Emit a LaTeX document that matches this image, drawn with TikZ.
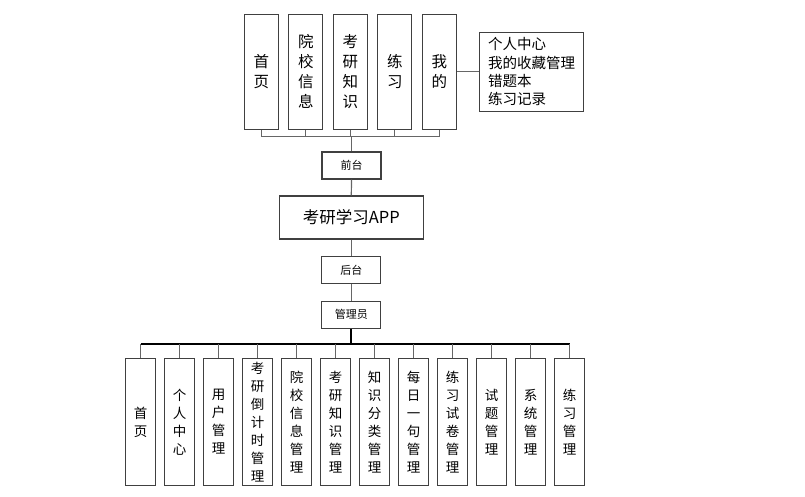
\documentclass[tikz,border=0pt]{standalone}
\usepackage{fontspec}
\setmainfont{Noto Sans CJK SC}
\usetikzlibrary{positioning}

\tikzset{
    box/.style={draw=black!75, line width=1.2pt, fill=white, inner sep=0pt, align=center},
    topbox/.style={box, minimum width=34pt, minimum height=115pt, font=\fontsize{15.5}{20}\selectfont},
    botbox/.style={box, minimum width=30pt, minimum height=127pt, font=\fontsize{13.5}{18}\selectfont},
    smallbox/.style={box, minimum width=59pt, minimum height=27pt, font=\fontsize{11}{13}\selectfont},
    link/.style={draw=black!60, line width=1.2pt},
    bus/.style={draw=black, line width=1.8pt},
}

\begin{document}
\begin{tikzpicture}[x=1pt, y=-1pt]
    \useasboundingbox (0,0) rectangle (805,497);

    \pgfmathsetmacro{\tx}{261.3}  % first top box
    \pgfmathsetmacro{\tdx}{44.5}
    \pgfmathsetmacro{\bx}{140.5}  % first bottom box
    \pgfmathsetmacro{\bdx}{39}

    % front end
    \foreach \t [count=\i] in {{首\\页},{院\\校\\信\\息},{考\\研\\知\\识},{练\\习},{我\\的}}
        \node[topbox] (t\i) at (\tx+\tdx*\i-\tdx, 71.7) {\t};

    \node[box, minimum width=104pt, minimum height=79pt, align=left,
          inner xsep=7pt, font=\fontsize{14.5}{18.3}\selectfont] (mine) at (531.7, 71.7)
          {个人中心\\我的收藏管理\\错题本\\练习记录};
    \draw[link] (t5.east) -- (mine.west);

    \node[smallbox] (qt) at (351.5, 165.5) {前台};
    \coordinate (fbus) at (351.5, 136.7);
    \foreach \i in {1,...,5}
        \draw[link] (t\i.south) |- (fbus);
    \draw[link] (fbus) -- (qt.north);

    \node[box, minimum width=144pt, minimum height=43pt, font=\fontsize{16.5}{20}\selectfont] (app) at (351.3, 217.5) {考研学习APP};
    \draw[link] (qt.south) -- (app.north);

    % back end
    \node[smallbox] (ht) at (351.3, 270.2) {后台};
    \node[smallbox] (gly) at (351.3, 314.7) {管理员};
    \draw[link] (app.south) -- (ht.north);
    \draw[link] (ht.south) -- (gly.north);

    \foreach \t [count=\i] in {{首\\页},{个\\人\\中\\心},{用\\户\\管\\理},{考\\研\\倒\\计\\时\\管\\理},
            {院\\校\\信\\息\\管\\理},{考\\研\\知\\识\\管\\理},{知\\识\\分\\类\\管\\理},{每\\日\\一\\句\\管\\理},
            {练\\习\\试\\卷\\管\\理},{试\\题\\管\\理},{系\\统\\管\\理},{练\\习\\管\\理}}
        \node[botbox] (b\i) at (\bx+\bdx*\i-\bdx, 422) {\t};

    \coordinate (bbus) at (351.3, 344);
    \draw[bus] (gly.south) -- (bbus);
    \draw[bus] (b1.north |- bbus) -- (b12.north |- bbus);
    \foreach \i in {1,...,12}
        \draw[link] (b\i.north |- bbus) -- (b\i.north);

\end{tikzpicture}
\end{document}
